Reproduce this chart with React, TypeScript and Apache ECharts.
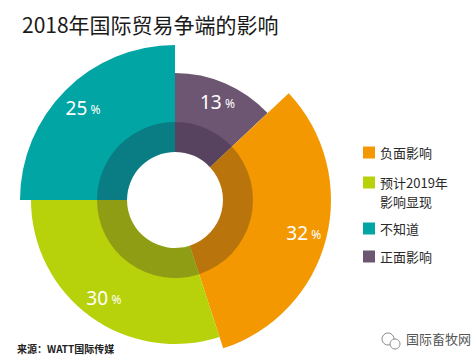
import React, { useEffect, useRef } from "react";
import * as echarts from "echarts";

// ---- data ----
const categories = ["正面影响", "负面影响", "预计2019年\n影响显现", "不知道"];
const values = [13, 32, 30, 25];
const legendOrder = [1, 2, 3, 0];
const titleText = "2018年国际贸易争端的影响";
const sourceText = "来源：WATT国际传媒";
const watermarkText = "国际畜牧网";

// ---- styles / layout ----
const colors = ["#6c5672", "#f39800", "#b7d10a", "#00a5a4"];
const outerR = [127, 156, 144, 155];
const labelR = [104, 130, 118, 127];
const innerR = 48;
const ringR = 78;
const center = [175, 200];
const legendCenters = [149, 179, 225, 253];
const FONT = "'Noto Sans CJK SC', 'Noto Sans', sans-serif";
const CLEAR = "rgba(0,0,0,0)";
const LH = 19;

export default function App() {
  const ref = useRef<HTMLDivElement>(null);
  useEffect(() => {
    if (!ref.current) return;
    const chart = echarts.init(ref.current, null, { renderer: "svg" });

    const sliceSeries = values.map((_, i) => ({
      type: "pie",
      center,
      radius: [innerR, outerR[i]],
      startAngle: 90,
      clockwise: true,
      silent: true,
      label: { show: false },
      labelLine: { show: false },
      emphasis: { disabled: true },
      data: values.map((v, j) =>
        j === i
          ? { name: categories[j], value: v, itemStyle: { color: colors[j] } }
          : { name: `__s${i}_${j}`, value: v, itemStyle: { color: CLEAR } }
      ),
    }));

    const ringSeries = {
      type: "pie",
      center,
      radius: [innerR, ringR],
      startAngle: 90,
      silent: true,
      label: { show: false },
      labelLine: { show: false },
      emphasis: { disabled: true },
      data: values.map((v, j) => ({
        name: `__r${j}`,
        value: v,
        itemStyle: { color: "rgba(35,20,45,0.27)" },
      })),
    };

    const labelSeries = values.map((_, i) => ({
      type: "pie",
      center,
      radius: [labelR[i] - 1, labelR[i] + 1],
      startAngle: 90,
      silent: true,
      labelLine: { show: false },
      emphasis: { disabled: true },
      avoidLabelOverlap: false,
      data: values.map((v, j) => ({
        name: `__l${i}_${j}`,
        value: v,
        itemStyle: { color: CLEAR },
        label:
          j === i
            ? {
                show: true,
                position: "inside",
                formatter: "{a|" + v + "} {b|%}",
                rich: {
                  a: { fontSize: 19, color: "#fff", fontFamily: "'Noto Sans', sans-serif" },
                  b: { fontSize: 12, color: "#fff", fontFamily: "'Noto Sans', sans-serif", padding: [3, 0, 0, 0] },
                },
              }
            : { show: false },
      })),
    }));

    const legends = legendOrder.map((idx, k) => {
      const lines = categories[idx].split("\n").length;
      const h = lines > 1 ? lines * LH - (LH - 12) : 12;
      return {
        orient: "vertical",
        left: 363,
        top: legendCenters[k] - 6,
        padding: 0,
        itemWidth: 12,
        itemHeight: h,
        icon: lines > 1 ? `path://M0,0h12v12h-12zM0,${h - 0.01}h0.01v0.01h-0.01z` : "rect",
        selectedMode: false,
        data: [
          {
            name: categories[idx],
            textStyle: {
              fontSize: 13,
              lineHeight: LH,
              color: "#2a2a2a",
              fontFamily: FONT,
            },
          },
        ],
      };
    });

    chart.setOption({
      animation: false,
      backgroundColor: "#ffffff",
      title: {
        text: titleText,
        left: 17,
        top: 8,
        textStyle: { fontSize: 21, fontWeight: "normal", color: "#1a1a1a", fontFamily: FONT },
      },
      legend: legends,
      series: [...sliceSeries, ringSeries, ...labelSeries],
      graphic: [
        {
          type: "text",
          left: 17,
          top: 343,
          style: { text: sourceText, fontSize: 10, fontWeight: "bold", fill: "#222", fontFamily: FONT },
        },
        {
          type: "text",
          left: 406,
          top: 332,
          style: { text: watermarkText, fontSize: 13, fill: "#555", fontFamily: FONT },
        },
        { type: "circle", shape: { cx: 388, cy: 339, r: 6 }, style: { fill: "none", stroke: "#888", lineWidth: 1 } },
        { type: "circle", shape: { cx: 395, cy: 344, r: 5 }, style: { fill: "#fff", stroke: "#888", lineWidth: 1 } },
      ],
    });
    return () => chart.dispose();
  }, []);
  return (
    <div
      ref={ref}
      style={{ position: "fixed", left: 0, top: 0, width: 475, height: 360 }}
    />
  );
}
